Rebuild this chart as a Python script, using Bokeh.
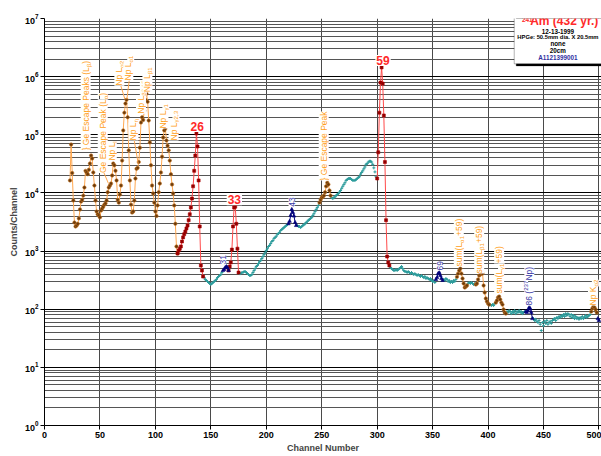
from math import pi
from bokeh.plotting import figure
from bokeh.models import Label, BoxAnnotation, FixedTicker
from bokeh.embed import file_html
from bokeh.resources import INLINE

# ---------------- data (channel, counts/channel) ----------------
np_l_ch = list(range(23, 121))
np_l_counts = [16400, 68000, 22000, 7400, 3100, 2650, 2750, 2950, 3650, 5200,
               7100, 7600, 9000, 12400, 24000, 22500, 21000, 25000, 32000, 44000,
               39000, 22500, 13400, 7400, 4800, 4300, 4100, 3800, 5000, 5400,
               5800, 6300, 6600, 7400, 10300, 12400, 13400, 14500, 20000, 32000,
               30000, 24000, 16400, 7600, 6800, 9400, 13400, 36000, 119000, 240000,
               345000, 400000, 200000, 54000, 16400, 6300, 4600, 4800, 7400, 17700,
               26000, 27000, 34000, 60000, 163000, 200000, 180000, 260000, 400000, 510000,
               370000, 176000, 74000, 30000, 13400, 9800, 6800, 4800, 4000, 6100,
               10300, 14500, 22500, 42000, 90000, 119000, 128000, 80000, 65000, 54000,
               36000, 21000, 14000, 9800, 6100, 2950, 1200, 910]

g26_ch = list(range(120, 144))
g26_counts = [910, 1020, 1100, 1200, 1460, 1720, 1950, 2170, 2450, 2750, 3400, 4300,
              5600, 8000, 13000, 24000, 44000, 105000, 63000, 16400, 2650, 565, 463, 365]

g31_ch = list(range(161, 167))
g31_counts = [463, 483, 520, 543, 520, 463]

g33_ch = list(range(166, 176))
g33_counts = [463, 543, 635, 1060, 2650, 5600, 5800, 2950, 1100, 428]

g43_ch = list(range(220, 228))
g43_counts = [2950, 3250, 4100, 5200, 4600, 4000, 3100, 2750]

geesc_ch = list(range(248, 259))
geesc_counts = [6800, 7600, 8300, 8600, 9000, 10300, 13000, 15000, 14000, 11000, 9000]

g59_ch = list(range(300, 312))
g59_counts = [17700, 50000, 240000, 790000, 1440000, 760000, 215000, 34000, 3400, 805, 635, 565]

g69_ch = list(range(353, 360))
g69_counts = [325, 350, 410, 428, 380, 337, 312]

sum1_ch = list(range(372, 382))
sum1_counts = [360, 410, 463, 500, 410, 337, 277, 236, 246, 256]
sum2_ch = list(range(389, 402))
sum2_counts = [266, 277, 325, 380, 395, 410, 410, 256, 194, 153, 136, 125, 120]
sum3_ch = list(range(407, 417))
sum3_counts = [130, 141, 159, 165, 147, 130, 120, 99, 88, 84]

g86_ch = list(range(434, 441))
g86_counts = [91, 88, 95, 107, 103, 88, 69]

ka2_ch = list(range(493, 499))
ka2_counts = [91, 103, 112, 107, 99, 88]

end_ch = [499, 500]
end_counts = [69, 64]

cont_ch = (list(range(144, 161)) + list(range(176, 220)) + list(range(228, 248)) +
           list(range(259, 300)) + list(range(312, 353)) + list(range(360, 372)) +
           list(range(382, 389)) + list(range(402, 407)) + list(range(417, 434)) +
           list(range(441, 493)))
cont_counts = ([350, 325, 312, 300, 288, 277, 266, 277, 288, 300, 312, 325, 350, 365, 380, 395, 428] +
               [410, 410, 428, 428, 445, 445, 428, 410, 395, 380, 380, 395, 428, 463, 500, 543, 565, 610,
                660, 690, 745, 805, 870, 940, 1020, 1100, 1200, 1250, 1350, 1460, 1520, 1650, 1720, 1800,
                1950, 2000, 2100, 2260, 2350, 2450, 2540, 2650, 2750, 2850] +
               [2750, 2650, 2650, 2540, 2650, 2750, 2850, 2950, 3100, 3250, 3400, 3500, 3650, 3800, 4100,
                4400, 4800, 5200, 5600, 6100] +
               [8300, 8000, 8300, 8600, 9000, 9400, 9800, 10300, 11000, 12000, 13000, 14000, 15000, 16400,
                17000, 17700, 17700, 17700, 17000, 16400, 16400, 16400, 17000, 17700, 18500, 19000, 21000,
                22500, 24000, 26000, 28000, 31000, 32000, 34000, 35000, 35000, 34000, 31000, 27000, 23000, 19000] +
               [520, 500, 483, 463, 463, 483, 463, 483, 500, 520, 543, 500, 463, 445, 445, 428, 445, 428, 410,
                428, 410, 395, 410, 395, 380, 395, 380, 365, 380, 365, 350, 365, 337, 350, 337, 325, 337, 312,
                300, 312, 288] +
               [325, 312, 337, 325, 300, 312, 288, 300, 288, 312, 300, 325] +
               [277, 288, 277, 288, 277, 266, 277] +
               [120, 116, 120, 116, 125] +
               [91, 88, 95, 91, 84, 91, 88, 95, 84, 91, 88, 95, 88, 91, 84, 88, 91] +
               [69, 64, 67, 62, 59, 64, 55, 43, 59, 52, 62, 57, 64, 55, 59, 62, 57, 64, 67, 69, 64, 72, 69,
                75, 72, 78, 75, 81, 75, 84, 78, 84, 81, 75, 81, 72, 78, 69, 75, 69, 72, 67, 72, 69, 75, 69,
                72, 78, 72, 75, 78, 81])

x_ticks = list(range(0, 501, 50))

# ---------------- styling ----------------
FONT = "Liberation Sans"
ORANGE_LINE = "#FFA850"
ORANGE_TXT = "#FFA020"
RED_LINE = "#FF4A4A"
RED_TXT = "#FF2A2A"
BLUE = "#00007A"
BLUE_TXT = "#3535A5"
TEAL = "#2E9C9C"

p = figure(width=601, height=456, x_range=(0, 502.3), y_range=(1, 1e7),
           y_axis_type="log", output_backend="svg", toolbar_location=None,
           min_border_left=44, min_border_right=0, min_border_top=18, min_border_bottom=31)
p.outline_line_color = None
p.background_fill_color = "white"

p.xaxis.ticker = FixedTicker(ticks=x_ticks)
p.xgrid.ticker = FixedTicker(ticks=x_ticks)
p.xgrid.grid_line_color = "#4a4a4a"
p.ygrid.grid_line_color = "#000000"
p.ygrid.minor_grid_line_color = "#555555"

for ax in (p.xaxis[0], p.yaxis[0]):
    ax.axis_line_color = "black"
    ax.major_tick_out = 4
    ax.major_tick_in = 0
    ax.minor_tick_line_color = None
    ax.major_label_text_font = FONT
    ax.major_label_text_font_style = "bold"
    ax.major_label_text_font_size = "9px"
    ax.major_label_text_color = "black"
    ax.major_label_standoff = 2
    ax.axis_label_text_font = FONT
    ax.axis_label_text_font_style = "bold"
    ax.axis_label_text_font_size = "9px"
    ax.axis_label_standoff = 3
p.xaxis.axis_label_standoff = 2
p.yaxis.axis_label = "Counts/Channel"
p.xaxis.axis_label = "Channel Number"

# ---------------- series ----------------
def series(xs, ys, line_color, marker, fill, edge, size):
    if line_color:
        p.line(xs, ys, line_color=line_color, line_width=1)
    p.scatter(xs, ys, marker=marker, size=size, fill_color=fill, line_color=edge, line_width=0.6)

p.scatter(cont_ch, cont_counts, marker="cross", size=3, line_color=TEAL, line_width=1)

for xs, ys in [(np_l_ch, np_l_counts), (geesc_ch, geesc_counts), (sum1_ch, sum1_counts),
               (sum2_ch, sum2_counts), (sum3_ch, sum3_counts), (ka2_ch, ka2_counts)]:
    series(xs, ys, ORANGE_LINE, "circle", "#6B3A0A", "#C07020", 3.4)
for xs, ys in [(g26_ch, g26_counts), (g33_ch, g33_counts), (g59_ch, g59_counts)]:
    series(xs, ys, RED_LINE, "square", "#8E0000", "#B00000", 3)
for xs, ys in [(g31_ch, g31_counts), (g43_ch, g43_counts), (g69_ch, g69_counts),
               (g86_ch, g86_counts), (end_ch, end_counts)]:
    series(xs, ys, BLUE, "triangle", BLUE, BLUE, 3.6)

# ---------------- annotation helpers ----------------
W = {' ': .278, '(': .333, ')': .333, '+': .584, ',': .278, '-': .333, '.': .278, ':': .278,
     '}': .334, 'α': .58, 'β': .575, 'γ': .5, 'η': .556, 'A': .667, 'E': .667, 'G': .778,
     'K': .667, 'L': .556, 'N': .722, 'P': .667, 'a': .556, 'c': .5, 'e': .556, 'k': .5,
     'l': .222, 'm': .833, 'p': .556, 's': .5, 'u': .556}


def tw(s, fs):
    return sum(W.get(c, .556) for c in s) * fs


def rich(parts, x, y, color, fs, angle=0.0, bold=False, bg=True):
    off = 0.0
    for text, kind in parts:
        size = fs if kind == "n" else fs * 0.72
        shift = 0.0 if kind == "n" else (fs * 0.28 if kind == "sub" else -fs * 0.38)
        if angle:
            xo, yo = shift, off
        else:
            xo, yo = off, -shift
        lab = Label(x=x, y=y, x_offset=xo, y_offset=yo, text=text, angle=angle,
                    text_align="left", text_baseline="middle", text_color=color,
                    text_font=FONT, text_font_size=f"{size:.1f}px",
                    text_font_style="bold" if bold else "normal")
        if bg:
            lab.background_fill_color = "white"
            lab.padding = 0
        p.add_layout(lab)
        off += tw(text, size)


def vlab(text_parts, ch, cnt, color, fs=8.5):
    rich(text_parts, ch, cnt, color, fs, angle=pi / 2)


def seg(x0, y0, x1, y1, color=ORANGE_LINE):
    p.segment(x0=[x0], y0=[y0], x1=[x1], y1=[y1], line_color=color, line_width=1)

# orange peak labels (rotated)
vlab([("} Ge Escape Peaks (L", "n"), ("β", "sub"), (")", "n")], 37.1, 54000, ORANGE_TXT)
vlab([("Ge Escape Peak (L", "n"), ("α", "sub"), (")", "n")], 52.5, 22000, ORANGE_TXT)
vlab([("Np L", "n"), ("l", "sub")], 60.7, 36000, ORANGE_TXT)
vlab([("Np L", "n"), ("α2", "sub")], 67.5, 700000, ORANGE_TXT)
vlab([("Np L", "n"), ("α1", "sub")], 75.6, 860000, ORANGE_TXT)
vlab([("Np L", "n"), ("η", "sub")], 80.2, 80000, ORANGE_TXT)
vlab([("Np L", "n"), ("β2,15", "sub")], 87.0, 230000, ORANGE_TXT)
vlab([("Np L", "n"), ("β1", "sub")], 92.8, 540000, ORANGE_TXT)
vlab([("Np L", "n"), ("γ1", "sub")], 107.3, 128000, ORANGE_TXT)
vlab([("Np L", "n"), ("γ2,3", "sub")], 116.4, 80000, ORANGE_TXT)
vlab([("} Ge Escape Peak", "n")], 251.8, 16400, ORANGE_TXT)
vlab([("sum(L", "n"), ("α1", "sub"), ("+59)", "n")], 373.6, 543, ORANGE_TXT)
vlab([("sum(L", "n"), ("β1", "sub"), ("+59)", "n")], 392.0, 410, ORANGE_TXT)
vlab([("sum(L", "n"), ("γ1", "sub"), ("+59)", "n")], 410.0, 186, ORANGE_TXT)
vlab([("Np K", "n"), ("α2", "sub")], 494.6, 116, ORANGE_TXT)

seg(68.8, 700000, 72.5, 410000)
seg(76.4, 860000, 74.3, 410000)
seg(80.9, 80000, 84.5, 32000)
seg(53.7, 22000, 57.7, 14500)

# blue labels (rotated)
vlab([("31", "n")], 161.2, 587, BLUE_TXT)
vlab([("43", "n")], 222.8, 5800, BLUE_TXT)
vlab([("69", "n")], 356.3, 463, BLUE_TXT)
vlab([("86 (", "n"), ("237", "sup"), ("Np)", "n")], 437.2, 116, BLUE_TXT)

# red gamma labels
for txt, ch, cnt in [("26", 137.7, 139000), ("33", 171.2, 7600), ("59", 305.3, 1900000)]:
    p.add_layout(Label(x=ch, y=cnt, text=txt, text_align="center", text_baseline="middle",
                       text_color=RED_TXT, text_font=FONT, text_font_size="12px",
                       text_font_style="bold", background_fill_color="white", padding=1))

# ---------------- info box ----------------
p.add_layout(BoxAnnotation(left=425.4, right=540, bottom=1.53e6, top=1.19e7,
                           fill_color="black", fill_alpha=1, line_color="black"))
p.add_layout(BoxAnnotation(left=423.6, right=540, bottom=1.66e6, top=1.28e7,
                           fill_color="white", fill_alpha=1, line_color="black", line_width=1))
p.add_layout(Label(x=438.0, y=8.88e6, text="Am (432 yr.)", text_align="left", text_baseline="middle",
                   text_color=RED_TXT, text_font=FONT, text_font_size="12px", text_font_style="bold"))
p.add_layout(Label(x=430.5, y=8.88e6, y_offset=1.5, text="241", text_align="left", text_baseline="middle",
                   text_color=RED_TXT, text_font=FONT, text_font_size="6.5px", text_font_style="bold"))
for txt, cnt, col, fs in [("12-13-1999", 5.97e6, "black", 6.3),
                          ("HPGe: 50.5mm dia. X 20.5mm", 4.77e6, "black", 5.8),
                          ("none", 3.67e6, "black", 6.3),
                          ("20cm", 2.82e6, "black", 6.3),
                          ("A1121399001", 2.11e6, "#2F2F9F", 6.3)]:
    p.add_layout(Label(x=463.0, y=cnt, text=txt, text_align="center", text_baseline="middle",
                       text_color=col, text_font=FONT, text_font_size=f"{fs}px", text_font_style="bold"))

open("out.html", "w").write(file_html(p, INLINE))
